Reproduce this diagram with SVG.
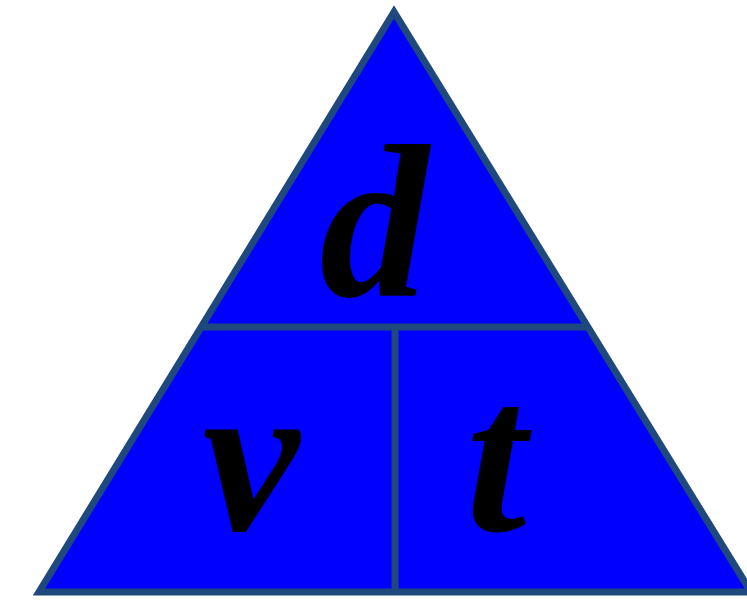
<svg xmlns="http://www.w3.org/2000/svg" width="747" height="600" viewBox="0 0 747 600">
  <style>
    .edge { fill: none; stroke: #1F497D; stroke-width: 7; }
    .lbl { font-family: "Liberation Serif", "Times New Roman", serif; font-weight: bold; font-style: italic; font-size: 218px; fill: #000000; text-anchor: middle; }
  </style>
  <g id="triangle">
    <polygon points="394,12 39,592 751,592" fill="#0000FF" stroke="#1F497D" stroke-width="7" stroke-linejoin="miter"/>
  </g>
  <g id="connectors">
    <line class="edge" x1="200" y1="327" x2="588" y2="327"/>
    <line class="edge" x1="395" y1="327" x2="395" y2="592"/>
  </g>
  <g id="node-d">
    <text class="lbl" x="374" y="296">d</text>
  </g>
  <g id="node-v">
    <text class="lbl" x="251" y="530">v</text>
  </g>
  <g id="node-t">
    <text class="lbl" x="496" y="530">t</text>
  </g>
</svg>
